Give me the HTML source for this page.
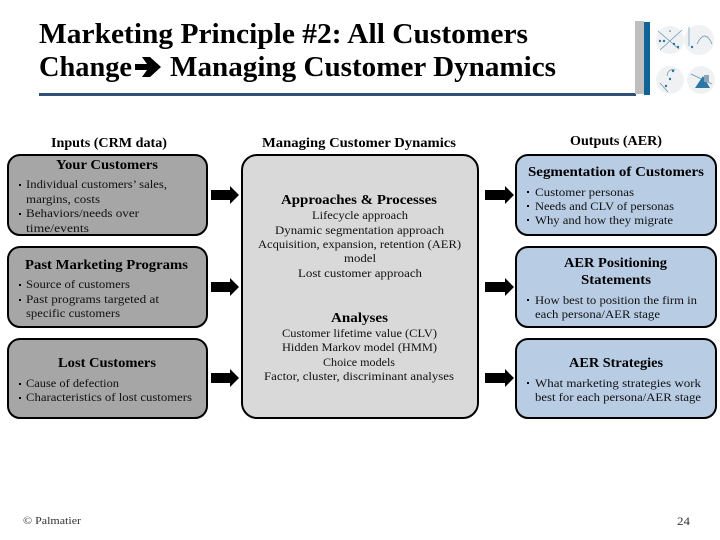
<!DOCTYPE html>
<html><head><meta charset="utf-8">
<style>
html,body{margin:0;padding:0;background:#fff;width:720px;height:540px;overflow:hidden}
svg{display:block}
text{font-family:"Liberation Serif",serif;fill:#000}
.t{font-size:29px;font-weight:bold}
.h{font-size:13.5px;font-weight:bold}
.b{font-size:12px;fill:#111}
.box{stroke:#000;stroke-width:2}
</style></head><body>
<svg width="720" height="540" viewBox="0 0 720 540" xmlns="http://www.w3.org/2000/svg">
<rect width="720" height="540" fill="#fff"/>
<text class="t" x="39" y="43" textLength="489" lengthAdjust="spacingAndGlyphs">Marketing Principle #2: All Customers</text>
<text class="t" x="39" y="76" textLength="93" lengthAdjust="spacingAndGlyphs">Change</text>
<polygon points="135,64 147,64 142,57 150,57 161,67 150,77 142,77 147,70 135,70" fill="#000"/>
<text class="t" x="170" y="76" textLength="386" lengthAdjust="spacingAndGlyphs">Managing Customer Dynamics</text>
<rect x="39" y="93" width="597" height="3" fill="#2f4f73"/>
<rect x="635" y="21" width="9" height="73" fill="#bfbfbf"/>
<rect x="644" y="22" width="6" height="73" fill="#0f6396"/>
<g fill="#f0f1f3"><circle cx="670" cy="40" r="14"/><circle cx="699" cy="40" r="15"/><circle cx="670" cy="80" r="14"/><circle cx="701" cy="80" r="14"/></g>
<g stroke="#5f93b5" stroke-width="0.7" fill="none">
<path d="M658 31 L679 49 M682 30 L660 50"/>
<path d="M689 27 L689 46 M697 44 Q705 28 712 44"/>
<path d="M667 76 Q668 68 675 70 M660 83 L668 92"/>
<path d="M691 74 L712 84"/>
</g>
<g fill="#2a77a5">
<circle cx="660" cy="41" r="1.2"/><circle cx="664" cy="41" r="1.2"/><circle cx="674" cy="44" r="1.2"/><circle cx="678" cy="47" r="1.2"/><circle cx="670" cy="31" r="0.8"/>
<circle cx="692" cy="47" r="1.2"/><circle cx="673" cy="71" r="1.2"/><circle cx="670" cy="79" r="1.2"/><circle cx="666" cy="86" r="1.2"/>
<polygon points="695,88 703,76 710,88"/><rect x="704" y="75" width="5" height="7" fill="#8aa6bb"/>
</g>

<text class="h" x="51" y="147" textLength="116" lengthAdjust="spacingAndGlyphs">Inputs (CRM data)</text>
<text class="h" x="262" y="147" textLength="194" lengthAdjust="spacingAndGlyphs">Managing Customer Dynamics</text>
<text class="h" x="570" y="145" textLength="92" lengthAdjust="spacingAndGlyphs">Outputs (AER)</text>

<g class="box" fill="#a6a6a6">
<rect x="8" y="155" width="199" height="80" rx="12"/>
<rect x="8" y="247" width="199" height="80" rx="12"/>
<rect x="8" y="339" width="199" height="79" rx="12"/>
</g>
<rect class="box" x="242" y="155" width="236" height="263" rx="15" fill="#d9d9d9"/>
<g class="box" fill="#b8cce4">
<rect x="516" y="155" width="200" height="80" rx="12"/>
<rect x="516" y="247" width="200" height="80" rx="12"/>
<rect x="516" y="339" width="200" height="79" rx="12"/>
</g>

<g fill="#000">
<polygon points="211,190 230,190 230,186 239,195 230,204 230,200 211,200"/>
<polygon points="211,282 230,282 230,278 239,287 230,296 230,292 211,292"/>
<polygon points="211,373 230,373 230,369 239,378 230,387 230,383 211,383"/>
<polygon points="485,190 505,190 505,186 514,195 505,204 505,200 485,200"/>
<polygon points="485,282 505,282 505,278 514,287 505,296 505,292 485,292"/>
<polygon points="485,373 505,373 505,369 514,378 505,387 505,383 485,383"/>
<rect x="19" y="184" width="2" height="2"/><rect x="19" y="213" width="2" height="2"/>
<rect x="19" y="284" width="2" height="2"/><rect x="19" y="299" width="2" height="2"/>
<rect x="19" y="383" width="2" height="2"/><rect x="19" y="397" width="2" height="2"/>
<rect x="527" y="191" width="2" height="2"/><rect x="527" y="205" width="2" height="2"/><rect x="527" y="219" width="2" height="2"/>
<rect x="527" y="299" width="2" height="2"/><rect x="527" y="382" width="2" height="2"/>
</g>

<text class="h" x="56" y="169" textLength="102" lengthAdjust="spacingAndGlyphs">Your Customers</text>
<text class="b" x="26" y="188" textLength="141" lengthAdjust="spacingAndGlyphs">Individual customers’ sales,</text>
<text class="b" x="26" y="203" textLength="74" lengthAdjust="spacingAndGlyphs">margins, costs</text>
<text class="b" x="26" y="217" textLength="113" lengthAdjust="spacingAndGlyphs">Behaviors/needs over</text>
<text class="b" x="26" y="232" textLength="63" lengthAdjust="spacingAndGlyphs">time/events</text>

<text class="h" x="25" y="269" textLength="163" lengthAdjust="spacingAndGlyphs">Past Marketing Programs</text>
<text class="b" x="26" y="288" textLength="104" lengthAdjust="spacingAndGlyphs">Source of customers</text>
<text class="b" x="26" y="303" textLength="133" lengthAdjust="spacingAndGlyphs">Past programs targeted at</text>
<text class="b" x="26" y="317" textLength="94" lengthAdjust="spacingAndGlyphs">specific customers</text>

<text class="h" x="58" y="367" textLength="98" lengthAdjust="spacingAndGlyphs">Lost Customers</text>
<text class="b" x="26" y="387" textLength="93" lengthAdjust="spacingAndGlyphs">Cause of defection</text>
<text class="b" x="26" y="401" textLength="166" lengthAdjust="spacingAndGlyphs">Characteristics of lost customers</text>

<text class="h" x="281" y="204" textLength="156" lengthAdjust="spacingAndGlyphs">Approaches &amp; Processes</text>
<text class="b" x="312" y="219" textLength="96" lengthAdjust="spacingAndGlyphs">Lifecycle approach</text>
<text class="b" x="275" y="234" textLength="169" lengthAdjust="spacingAndGlyphs">Dynamic segmentation approach</text>
<text class="b" x="258" y="248" textLength="203" lengthAdjust="spacingAndGlyphs">Acquisition, expansion, retention (AER)</text>
<text class="b" x="344" y="262" textLength="32" lengthAdjust="spacingAndGlyphs">model</text>
<text class="b" x="298" y="277" textLength="124" lengthAdjust="spacingAndGlyphs">Lost customer approach</text>

<text class="h" x="331" y="322" textLength="57" lengthAdjust="spacingAndGlyphs">Analyses</text>
<text class="b" x="282" y="337" textLength="155" lengthAdjust="spacingAndGlyphs">Customer lifetime value (CLV)</text>
<text class="b" x="282" y="351" textLength="155" lengthAdjust="spacingAndGlyphs">Hidden Markov model (HMM)</text>
<text class="b" x="323" y="366" textLength="72" lengthAdjust="spacingAndGlyphs">Choice models</text>
<text class="b" x="264" y="380" textLength="190" lengthAdjust="spacingAndGlyphs">Factor, cluster, discriminant analyses</text>

<text class="h" x="528" y="176" textLength="176" lengthAdjust="spacingAndGlyphs">Segmentation of Customers</text>
<text class="b" x="535" y="196" textLength="99" lengthAdjust="spacingAndGlyphs">Customer personas</text>
<text class="b" x="535" y="210" textLength="139" lengthAdjust="spacingAndGlyphs">Needs and CLV of personas</text>
<text class="b" x="535" y="224" textLength="138" lengthAdjust="spacingAndGlyphs">Why and how they migrate</text>

<text class="h" x="564" y="267" textLength="103" lengthAdjust="spacingAndGlyphs">AER Positioning</text>
<text class="h" x="581" y="284" textLength="70" lengthAdjust="spacingAndGlyphs">Statements</text>
<text class="b" x="535" y="304" textLength="162" lengthAdjust="spacingAndGlyphs">How best to position the firm in</text>
<text class="b" x="535" y="318" textLength="125" lengthAdjust="spacingAndGlyphs">each persona/AER stage</text>

<text class="h" x="569" y="367" textLength="94" lengthAdjust="spacingAndGlyphs">AER Strategies</text>
<text class="b" x="535" y="387" textLength="166" lengthAdjust="spacingAndGlyphs">What marketing strategies work</text>
<text class="b" x="535" y="401" textLength="166" lengthAdjust="spacingAndGlyphs">best for each persona/AER stage</text>

<text x="23" y="524" font-size="11" textLength="58" lengthAdjust="spacingAndGlyphs" style="fill:#333">© Palmatier</text>
<text x="677" y="525" font-size="12" textLength="13" lengthAdjust="spacingAndGlyphs" style="fill:#333">24</text>
</svg>
</body></html>
